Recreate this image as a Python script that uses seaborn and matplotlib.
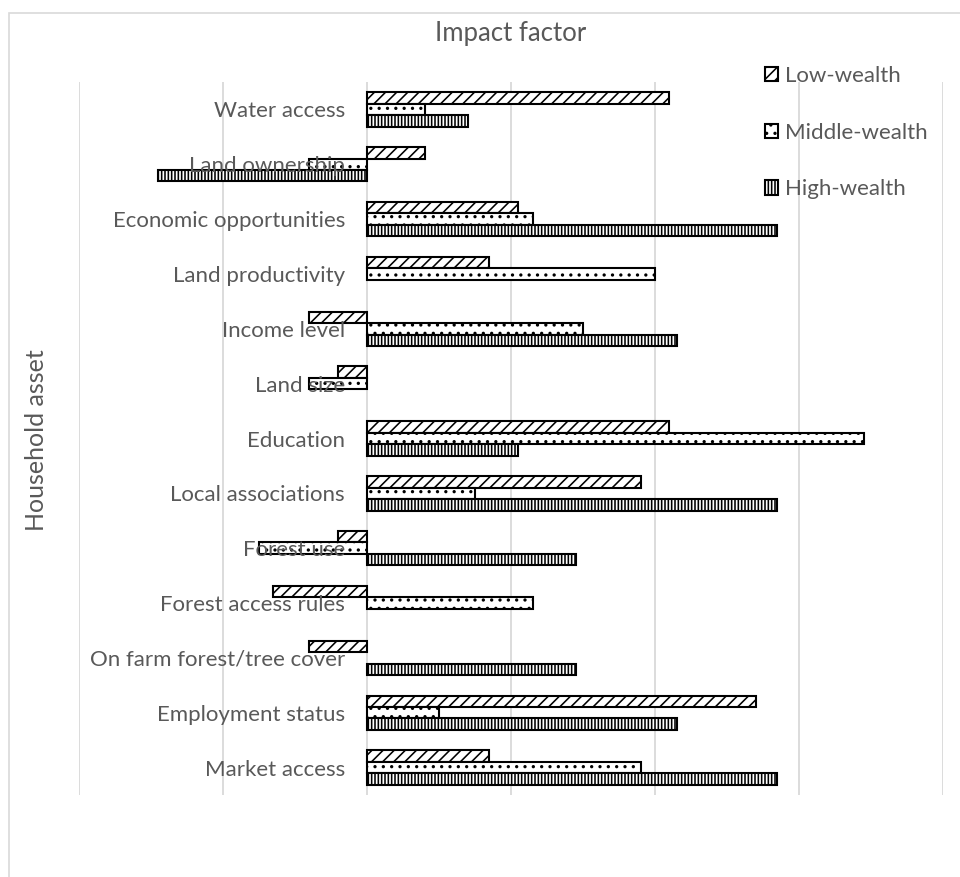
import numpy as np
import pandas as pd
import matplotlib
matplotlib.use("Agg")
import matplotlib.pyplot as plt
from matplotlib.patches import Patch, Rectangle
import seaborn as sns

# Household assets (top to bottom) and impact factor per wealth group
assets = ["Water access", "Land ownership", "Economic opportunities", "Land productivity",
          "Income level", "Land size", "Education", "Local associations", "Forest use",
          "Forest access rules", "On farm forest/tree cover", "Employment status", "Market access"]
groups = ["Low-wealth", "Middle-wealth", "High-wealth"]
low_wealth = [0.21, 0.04, 0.105, 0.085, -0.04, -0.02, 0.21, 0.19, -0.02, -0.065, -0.04, 0.27, 0.085]
middle_wealth = [0.04, -0.04, 0.115, 0.20, 0.15, -0.04, 0.345, 0.075, -0.075, 0.115, 0.0, 0.05, 0.19]
high_wealth = [0.07, -0.145, 0.285, 0.0, 0.215, 0.0, 0.105, 0.285, 0.145, 0.0, 0.145, 0.215, 0.285]
grid_ticks = [-0.2, -0.1, 0.0, 0.1, 0.2, 0.3, 0.4]

sns.set_theme(style="white")
plt.rcParams["font.family"] = ["Lato", "DejaVu Sans"]
plt.rcParams["hatch.linewidth"] = 1.15

TEXT = "#595959"
GRID = "#d9d9d9"
hatches = ["///", "..", "|||||"]

df = pd.DataFrame({
    "asset": assets * 3,
    "wealth": np.repeat(groups, len(assets)),
    "impact": low_wealth + middle_wealth + high_wealth,
})

W, H = 960, 877
fig = plt.figure(figsize=(W / 100, H / 100), dpi=100)
ax = fig.add_axes([79 / W, 1 - 795 / H, (943 - 79) / W, (795 - 82) / H])

sns.barplot(data=df, x="impact", y="asset", hue="wealth", order=assets, hue_order=groups,
            orient="h", width=0.627, palette=["white"] * 3, saturation=1,
            edgecolor="black", linewidth=1.5, errorbar=None, legend=False, ax=ax)

for container, h in zip(ax.containers, hatches):
    for bar in container:
        bar.set_hatch(h)
        if bar.get_width() == 0:
            bar.set_visible(False)

ax.set_xlim(grid_ticks[0], grid_ticks[-1])
ax.set_xticks(grid_ticks)
ax.tick_params(axis="x", length=0, labelbottom=False)
ax.grid(axis="x", color=GRID, linewidth=1.3)
ax.grid(axis="y", visible=False)
ax.set_xlabel("")
ax.set_ylabel("")
for s in ax.spines.values():
    s.set_visible(False)
ax.spines["left"].set_position(("data", 0))
ax.tick_params(axis="y", length=0, pad=15.8, labelsize=16, labelcolor=TEXT)
ax.set_axisbelow(True)
ax.yaxis.set_zorder(5)

fig.text(511 / W, 1 - 33 / H, "Impact factor", ha="center", va="center",
         fontsize=18.5, color=TEXT)
fig.text(37 / W, 1 - 440 / H, "Household asset", ha="center", va="center",
         rotation=90, fontsize=18, color=TEXT)

handles = [Patch(facecolor="white", edgecolor="black", hatch=h, linewidth=1.5) for h in hatches]
fig.legend(handles, groups, loc="upper left", bbox_to_anchor=(765 / W, 1 - 66 / H),
           frameon=False, fontsize=16, labelcolor=TEXT, handlelength=0.6, handleheight=0.6,
           handletextpad=0.3, labelspacing=1.65, borderpad=0, borderaxespad=0)

fig.patches.append(Rectangle((9 / W, -0.1), 1.2, 1.1 - 13 / H, transform=fig.transFigure,
                             fill=False, edgecolor=GRID, linewidth=1.2))

fig.savefig("out.png", dpi=100)
